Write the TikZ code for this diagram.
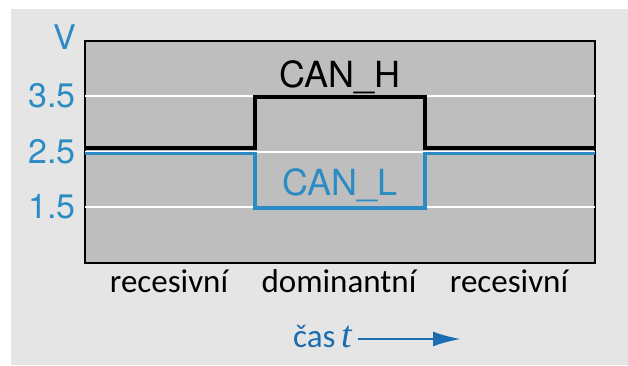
\documentclass[tikz,border=0pt]{standalone}
\usepackage{fontspec}
\setmainfont{TeX Gyre Heros}
\newfontfamily\captionfont{Carlito}
\newfontfamily\timefont{Liberation Serif}
\usepackage{tikz}
\usetikzlibrary{positioning}
\usetikzlibrary{arrows.meta}
\definecolor{bggray}{HTML}{E5E5E5}
\definecolor{plotgray}{HTML}{BEBEBE}
\definecolor{canblue}{HTML}{2B8CC4}
\definecolor{timeblue}{HTML}{1B6DB0}

\begin{document}
\begin{tikzpicture}[x=1pt, y=-1pt,
	tick label/.style={text=canblue, anchor=east, inner sep=0pt, font=\fontsize{34}{34}\selectfont},
	bus label/.style={anchor=base, inner sep=0pt, font=\fontsize{36}{36}\selectfont},
	state label/.style={anchor=base, inner sep=0pt, font=\captionfont\fontsize{33}{33}\selectfont},
	grid line/.style={white, line width=1.3pt},
	level line/.style={line width=3.6pt, line join=miter}]

  \useasboundingbox (0,0) rectangle (628,365);
  \fill[bggray] (11,9) rectangle (628,365);
  \filldraw[fill=plotgray, draw=black, line width=1.5pt] (85,41) rectangle (595,263);

  \coordinate (left) at (85,0);
  \coordinate (right) at (595,0);

  \node[tick label] (V) at (76,37) {V};
  \node[tick label] (hi) at (76,96) {3.5};
  \node[tick label] (mid) at (76,152) {2.5};
  \node[tick label] (lo) at (76,207) {1.5};

  \draw[grid line] (left |- hi) -- (right |- hi);
  \draw[grid line] (left |- mid) -- (right |- mid);
  \draw[grid line] (left |- lo) -- (right |- lo);

  % CAN_H
  \draw[level line, black] (85,148) -- (255,148) -- (255,97) -- (425,97) -- (425,148) -- (595,148);
  % CAN_L
  \draw[level line, canblue] (85,153.5) -- (255,153.5) -- (255,208) -- (425,208) -- (425,153.5) -- (595,153.5);

  \node[bus label] (canh) at (340,87) {CAN\_H};
  \node[bus label, text=canblue] (canl) at (340,195) {CAN\_L};

  \node[state label] (rec1) at (169,292) {recesivní};
  \node[state label] (dom) at (339,292) {dominantní};
  \node[state label] (rec2) at (509,292) {recesivní};

  \node[state label, anchor=base west, text=timeblue] (cas) at (293,347) {čas\,{\timefont\itshape\fontsize{38}{38}\selectfont t}};
  \coordinate (tend) at (461,339);
  \draw[timeblue, line width=2.6pt, -{Latex[length=28pt, width=15pt]}] ([xshift=6pt]cas.east |- tend) -- (tend);
\end{tikzpicture}
\end{document}
